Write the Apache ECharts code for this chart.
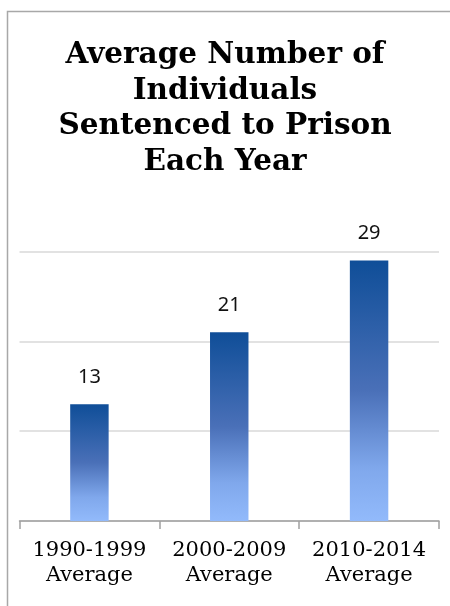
<!DOCTYPE html>
<html>
<head>
<meta charset="utf-8">
<script src="https://cdn.jsdelivr.net/npm/echarts@6/dist/echarts.min.js"></script>
<style>
html,body{margin:0;padding:0;background:#fff;}
#chart{width:450px;height:606px;}
</style>
</head>
<body>
<div id="chart"></div>
<script>
const titleText = 'Average Number of\nIndividuals\nSentenced to Prison\nEach Year';
const categories = ['1990-1999\nAverage', '2000-2009\nAverage', '2010-2014\nAverage'];
const values = [13, 21, 29];
const yMin = 0, yMax = 30, yInterval = 10;

const chart = echarts.init(document.getElementById('chart'), null, {renderer: 'canvas'});
chart.setOption({
  backgroundColor: '#ffffff',
  animation: false,
  graphic: [
    {type: 'rect', shape: {x: 7.5, y: 11.5, width: 470, height: 620}, style: {fill: 'none', stroke: '#a8a8a8', lineWidth: 1.5}, z: -1}
  ],
  title: {
    text: titleText,
    left: 'center',
    top: 33,
    textStyle: {fontFamily: 'DejaVu Serif', fontWeight: 'bold', fontSize: 29.5, lineHeight: 35.5, color: '#000'}
  },
  grid: {left: 19.5, right: 11, top: 251.5, bottom: 85, containLabel: false},
  xAxis: {
    type: 'category',
    data: categories,
    axisLine: {lineStyle: {color: '#a0a0a0', width: 1.5}},
    axisTick: {show: true, length: 8, lineStyle: {color: '#a0a0a0', width: 1.5}},
    axisLabel: {margin: 17, fontFamily: 'DejaVu Serif', fontSize: 21, lineHeight: 25, color: '#000', interval: 0}
  },
  yAxis: {
    type: 'value',
    min: yMin, max: yMax, interval: yInterval,
    axisLine: {show: false},
    axisTick: {show: false},
    axisLabel: {show: false},
    splitLine: {lineStyle: {color: '#d9d9d9', width: 1.5}}
  },
  series: [{
    type: 'bar',
    data: values,
    barWidth: '27.5%',
    itemStyle: {
      color: new echarts.graphic.LinearGradient(0, 0, 0, 1, [
        {offset: 0, color: '#0f4e98'},
        {offset: 0.5, color: '#4a70b8'},
        {offset: 0.8, color: '#80a8ec'},
        {offset: 1, color: '#92bafb'}
      ])
    },
    label: {
      show: true,
      position: 'top',
      distance: 10,
      fontFamily: 'Noto Sans',
      fontSize: 20,
      lineHeight: 22,
      color: '#111',
      backgroundColor: '#ffffff',
      padding: [6, 11]
    }
  }]
});
</script>
</body>
</html>
